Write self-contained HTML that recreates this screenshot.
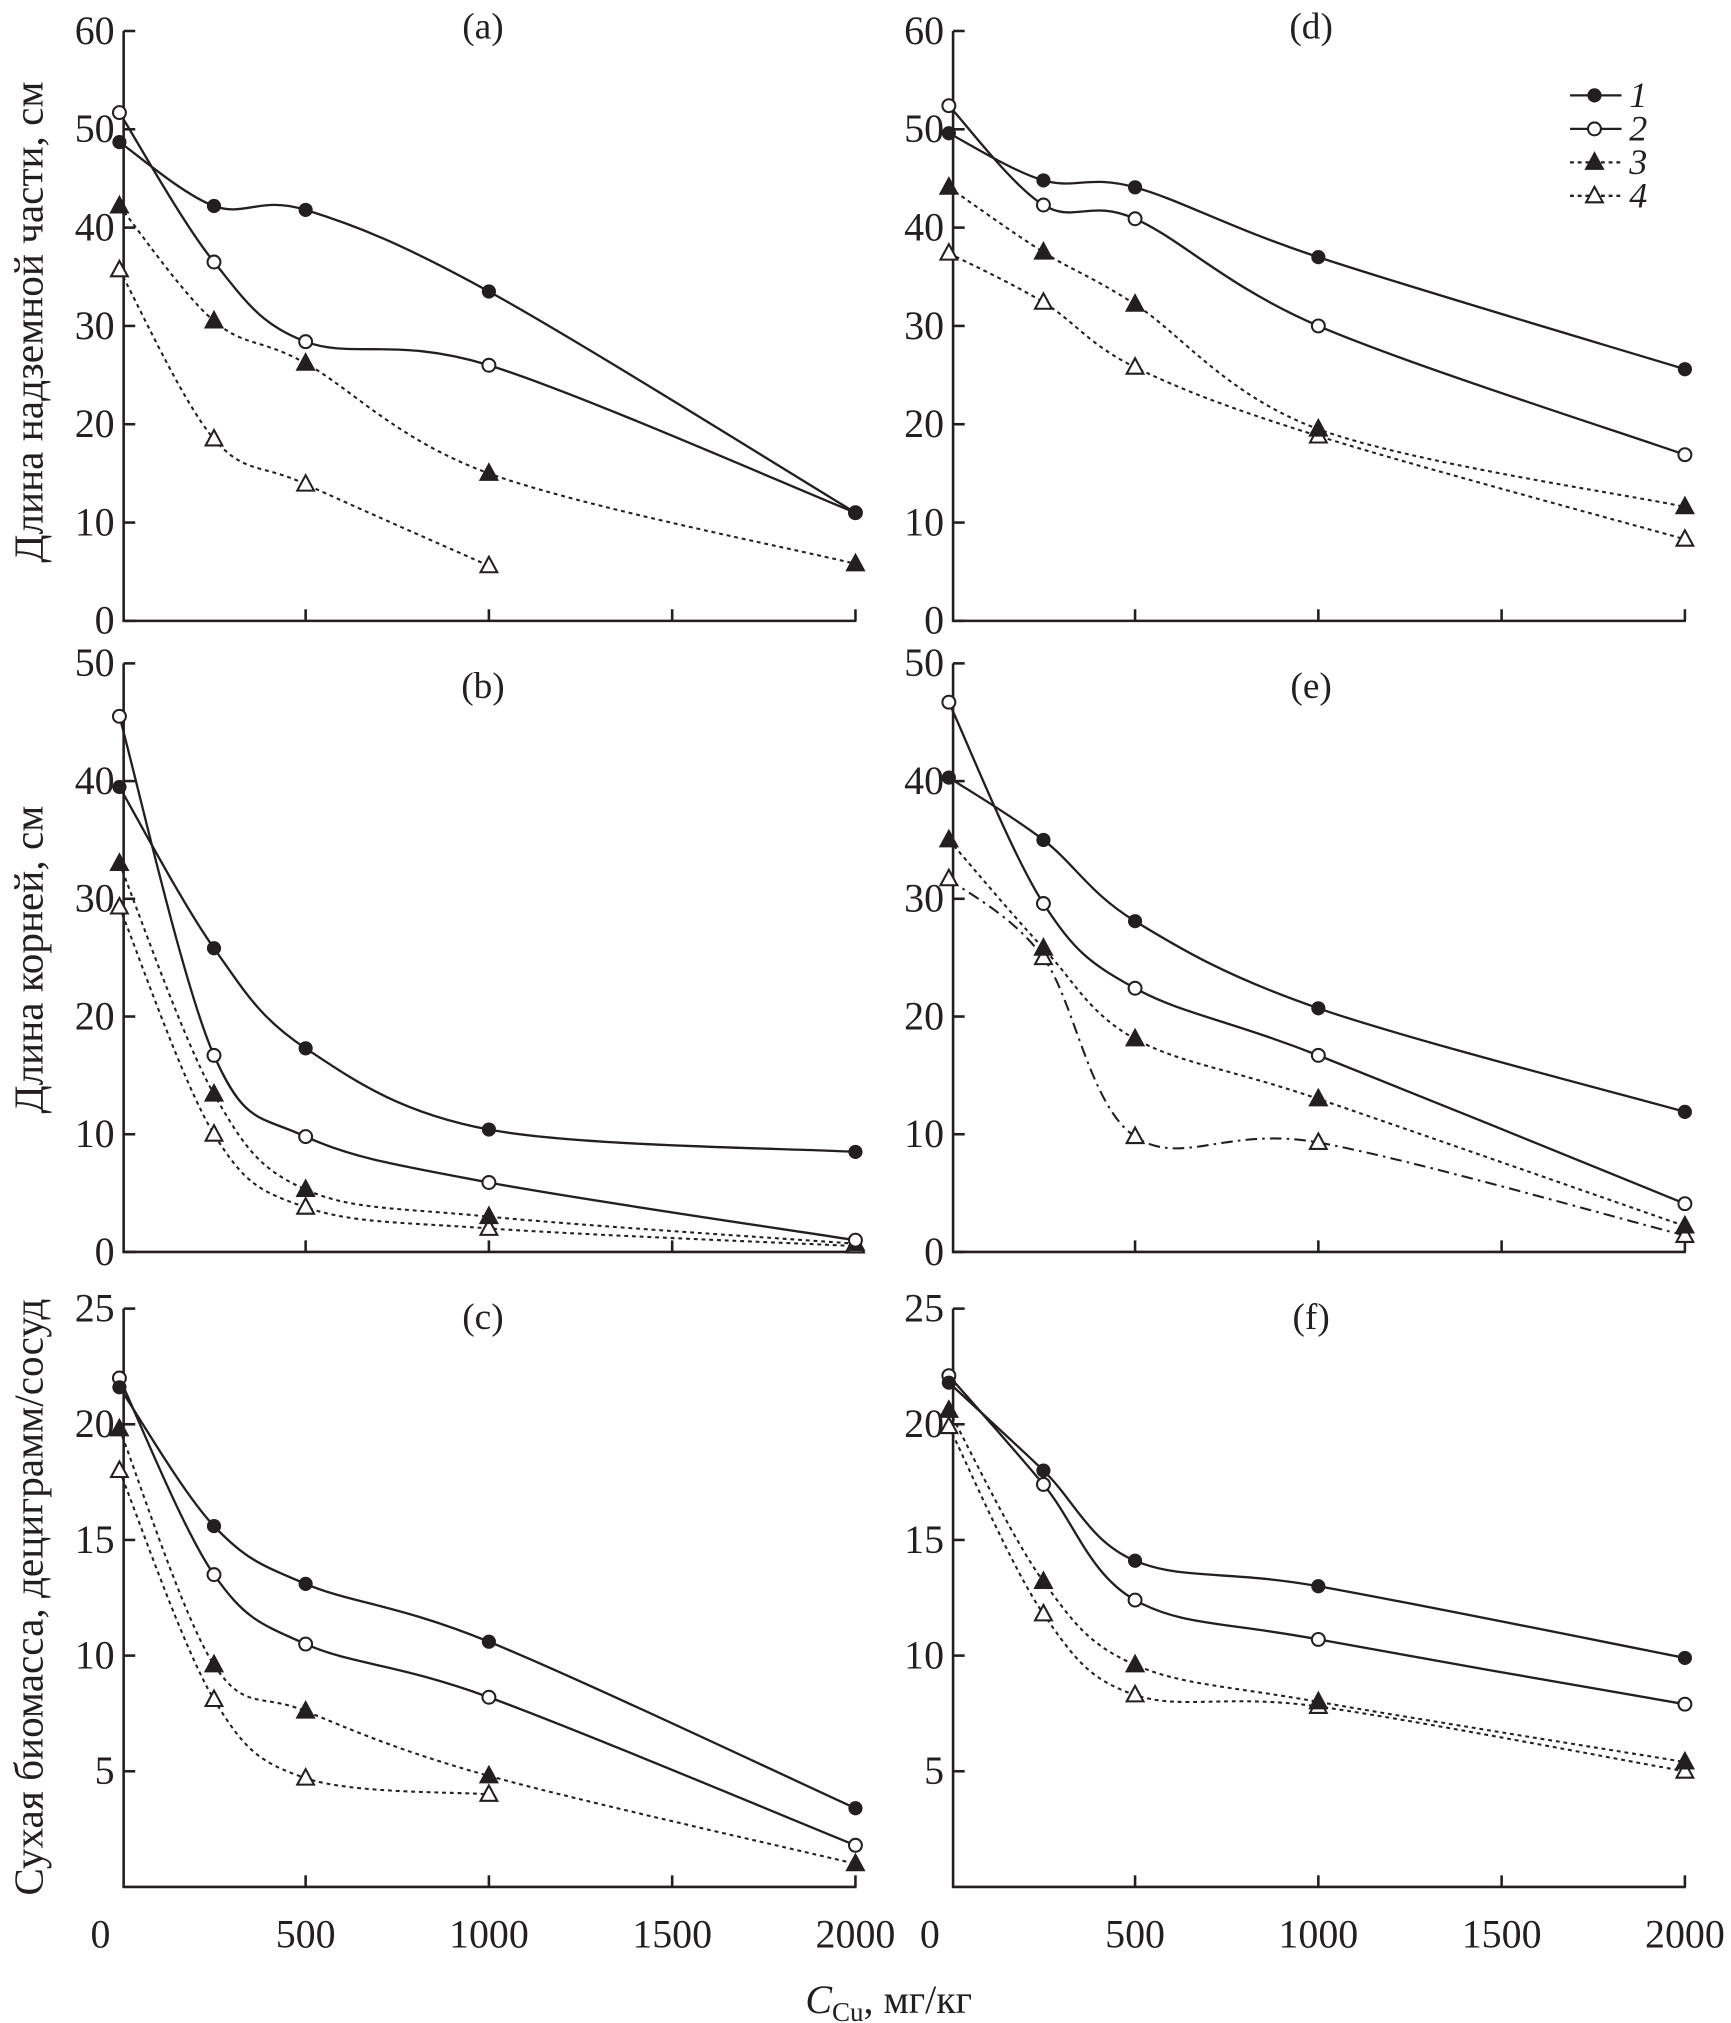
<!DOCTYPE html>
<html><head><meta charset="utf-8"><style>
html,body{margin:0;padding:0;background:#fff}
svg{display:block}
text{font-family:"Liberation Serif",serif;fill:#231f20}
</style></head><body>
<svg id="s" width="1731" height="2023" viewBox="0 0 1344 1570.6" xmlns="http://www.w3.org/2000/svg"></svg>
<script>
const S=document.getElementById('s');let h='';
const panels=[
 {x0:95,y0:482,ys:458/60,ymax:60,step:10,lab:'(a)',lx:375,ly:30,
  d:[[48.7,42.2,41.8,33.5,11],[51.7,36.5,28.4,26,11],[42.2,30.5,26.2,15,5.8],[35.7,18.5,13.9,5.6]]},
 {x0:739,y0:482,ys:458/60,ymax:60,step:10,lab:'(d)',lx:1018,ly:30,
  d:[[49.6,44.8,44.1,37,25.6],[52.4,42.3,40.9,30,16.9],[44.1,37.5,32.2,19.5,11.6],[37.4,32.4,25.8,18.8,8.3]]},
 {x0:95,y0:972,ys:457/50,ymax:50,step:10,lab:'(b)',lx:375,ly:542,
  d:[[39.5,25.8,17.3,10.4,8.5],[45.5,16.7,9.8,5.9,1.0],[33,13.4,5.3,3,0.7],[29.3,10,3.8,2,0.5]]},
 {x0:739,y0:972,ys:457/50,ymax:50,step:10,lab:'(e)',lx:1018,ly:542,dashdot4:true,
  d:[[40.3,35,28.1,20.7,11.9],[46.7,29.6,22.4,16.7,4.1],[35,25.8,18.1,13,2.2],[31.7,25,9.8,9.3,1.4]]},
 {x0:95,y0:1465,ys:449/25,ymax:25,step:5,lab:'(c)',lx:375,ly:1032,nozero:true,
  d:[[21.6,15.6,13.1,10.6,3.4],[22,13.5,10.5,8.2,1.8],[19.8,9.6,7.6,4.8,1],[18,8.1,4.7,4]]},
 {x0:739,y0:1465,ys:449/25,ymax:25,step:5,lab:'(f)',lx:1018,ly:1032,nozero:true,
  d:[[21.8,18,14.1,13,9.9],[22.1,17.4,12.4,10.7,7.9],[20.6,13.2,9.6,8,5.4],[19.9,11.8,8.3,7.8,5]]}
];
const xs=[-8,250,500,1000,2000],XS=142.3/500;
function cr(p){let s=`M${p[0][0]},${p[0][1]}`;for(let i=0;i<p.length-1;i++){const a=p[i-1]||p[i],b=p[i],c=p[i+1],d=p[i+2]||c;const t=0.5/3;s+=` C${b[0]+(c[0]-a[0])*t},${b[1]+(c[1]-a[1])*t} ${c[0]-(d[0]-b[0])*t},${c[1]-(d[1]-b[1])*t} ${c[0]},${c[1]}`;}return s;}
function mk(k,x,y){if(k==0)return `<circle cx="${x}" cy="${y}" r="5.5" fill="#231f20"/>`;if(k==1)return `<circle cx="${x}" cy="${y}" r="5" fill="#fff" stroke="#231f20" stroke-width="1.6"/>`;
 const f=k==2?'#231f20':'#fff';return `<polygon points="${x},${y-7} ${x-6.5},${y+5} ${x+6.5},${y+5}" fill="${f}" stroke="#231f20" stroke-width="1.6"/>`;}
panels.forEach(P=>{
 const top=P.y0-P.ymax*P.ys;
 h+=`<path d="M${P.x0+1},${top} V${P.y0} H${P.x0+570}" fill="none" stroke="#231f20" stroke-width="2"/>`;
 for(let v=500;v<=2000;v+=500){const x=P.x0+v*XS;h+=`<line x1="${x}" y1="${P.y0}" x2="${x}" y2="${P.y0-9}" stroke="#231f20" stroke-width="2"/>`;}
 for(let v=0;v<=P.ymax;v+=P.step){if(v==0&&P.nozero)continue;const y=P.y0-v*P.ys;h+=`<line x1="${P.x0+1}" y1="${y}" x2="${P.x0+10}" y2="${y}" stroke="#231f20" stroke-width="2"/><text x="${P.x0-6}" y="${y+10}" font-size="31" text-anchor="end">${v}</text>`;}
 h+=`<text x="${P.lx}" y="${P.ly}" font-size="29" text-anchor="middle">${P.lab}</text>`;
 const L=[],M=[];
 P.d.forEach((ser,k)=>{const pts=ser.map((v,i)=>[P.x0+xs[i]*XS,P.y0-v*P.ys]);
  let da=k<2?'':(k==3&&P.dashdot4?'stroke-dasharray="9,4,2,4"':'stroke-dasharray="3,3"');
  L.push(`<path d="${cr(pts)}" fill="none" stroke="#231f20" stroke-width="${k<2?1.8:1.6}" ${da}/>`);
  M.push(pts.map(p=>mk(k,p[0],p[1])).join(''));});
 h+=L.join('')+M.reverse().join('');
});
[[95,'0'],[739,'0']].forEach(a=>h+=`<text x="${a[0]-17}" y="1512" font-size="31" text-anchor="middle">${a[1]}</text>`);
[95,739].forEach(x0=>{[500,1000,1500,2000].forEach(v=>h+=`<text x="${x0+v*XS}" y="1512" font-size="31" text-anchor="middle">${v}</text>`)});
h+=`<text x="690" y="1563" font-size="31" text-anchor="middle"><tspan font-style="italic">C</tspan><tspan font-size="21" dy="6">Cu</tspan><tspan dy="-6">, мг/кг</tspan></text>`;
[['Длина надземной части, см',250],['Длина корней, см',745],['Сухая биомасса, дециграмм/сосуд',1240]].forEach(a=>h+=`<text transform="translate(33,${a[1]}) rotate(-90)" font-size="32" text-anchor="middle">${a[0]}</text>`);
[74,100,126,152].forEach((y,k)=>{const da=k<2?'':'stroke-dasharray="3,3"';h+=`<line x1="1219" y1="${y}" x2="1259" y2="${y}" stroke="#231f20" stroke-width="1.8" ${da}/>`+mk(k,1238,y)+`<text x="1265" y="${y+9}" font-size="28" font-style="italic">${k+1}</text>`;});
S.innerHTML=h;
</script>
</body></html>
